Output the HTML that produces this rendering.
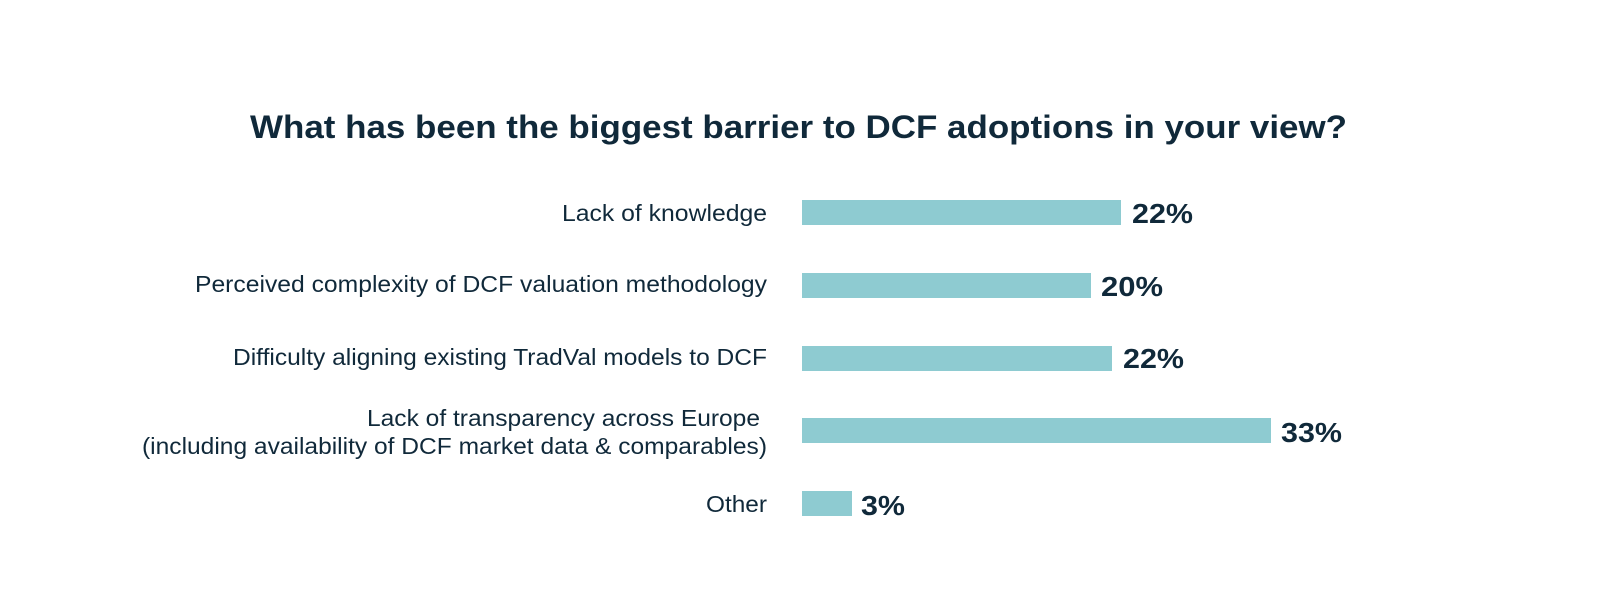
<!DOCTYPE html>
<html>
<head>
<meta charset="utf-8">
<style>
  html, body { margin:0; padding:0; background:#ffffff; }
  svg { display:block; }
  .t { font-family:"Liberation Sans", Arial, sans-serif; fill:#10293a; }
  .title { font-weight:bold; font-size:32px; }
  .lab { font-size:23px; }
  .val { font-weight:bold; font-size:28px; }
  .bar { fill:#8ecbd1; }
</style>
</head>
<body>
<svg width="1600" height="600" viewBox="0 0 1600 600" xmlns="http://www.w3.org/2000/svg">
  <rect width="1600" height="600" fill="#ffffff"/>
  <text class="t title" x="250" y="138" textLength="1097" lengthAdjust="spacingAndGlyphs">What has been the biggest barrier to DCF adoptions in your view?</text>

  <!-- labels -->
  <text class="t lab" x="562" y="221" textLength="205" lengthAdjust="spacingAndGlyphs">Lack of knowledge</text>
  <text class="t lab" x="195" y="292" textLength="572" lengthAdjust="spacingAndGlyphs">Perceived complexity of DCF valuation methodology</text>
  <text class="t lab" x="233" y="365" textLength="534" lengthAdjust="spacingAndGlyphs">Difficulty aligning existing TradVal models to DCF</text>
  <text class="t lab" x="367" y="426" textLength="393" lengthAdjust="spacingAndGlyphs">Lack of transparency across Europe</text>
  <text class="t lab" x="142" y="454" textLength="625" lengthAdjust="spacingAndGlyphs">(including availability of DCF market data &amp; comparables)</text>
  <text class="t lab" x="706" y="512" textLength="61" lengthAdjust="spacingAndGlyphs">Other</text>

  <!-- bars -->
  <rect class="bar" x="802" y="200" width="319" height="25"/>
  <rect class="bar" x="802" y="273" width="289" height="25"/>
  <rect class="bar" x="802" y="346" width="310" height="25"/>
  <rect class="bar" x="802" y="418" width="469" height="25"/>
  <rect class="bar" x="802" y="491" width="50" height="25"/>

  <!-- values -->
  <text class="t val" x="1132" y="223" textLength="61" lengthAdjust="spacingAndGlyphs">22%</text>
  <text class="t val" x="1101" y="296" textLength="62" lengthAdjust="spacingAndGlyphs">20%</text>
  <text class="t val" x="1123" y="368" textLength="61" lengthAdjust="spacingAndGlyphs">22%</text>
  <text class="t val" x="1281" y="442" textLength="61" lengthAdjust="spacingAndGlyphs">33%</text>
  <text class="t val" x="861" y="515" textLength="44" lengthAdjust="spacingAndGlyphs">3%</text>
</svg>
</body>
</html>
